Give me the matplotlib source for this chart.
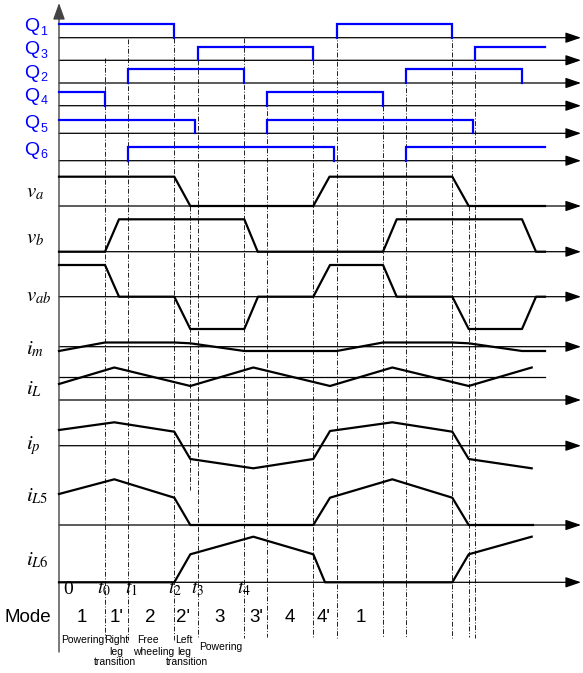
import numpy as np
import matplotlib.pyplot as plt

plt.rcParams['mathtext.fontset'] = 'stix'
plt.rcParams['font.family'] = ['Liberation Sans', 'DejaVu Sans']

# horizontal time axis (drawing units, left edge of the time axis = 59)
t_start, t_stop, t_arrow = 59, 545, 581

# gate signals: on-intervals for each switch
gate_labels = ["1", "3", "2", "4", "5", "6"]
gate_on = [
    [(59, 174.3), (336.7, 452.3)],
    [(197.7, 313.3), (475.3, 545)],
    [(128.3, 244.3), (406, 522)],
    [(59, 105), (267, 383)],
    [(59, 195.3), (267, 473.3)],
    [(128.3, 334.3), (406, 545)],
]
gate_high = 13.8

# analog waveforms: time points and values (height above the row's zero line)
va_t = [59, 174.3, 190.3, 313.3, 329.5, 452.3, 468.7, 545]
va_v = [29.3, 29.3, 0, 0, 29.3, 29.3, 0, 0]

vb_t = [59, 105, 119, 244.3, 257.7, 383, 396.7, 522, 536, 545]
vb_v = [0, 0, 32.4, 32.4, 0, 0, 32.4, 32.4, 0, 0]

vab_t = [59, 105, 119, 174.3, 190.3, 244.3, 258, 313.3, 330, 383, 396.7,
         452.3, 468.7, 522, 536, 545]
vab_v = [31.7, 31.7, 0, 0, -32.3, -32.3, 0, 0, 31.7, 31.7, 0, 0,
         -32.3, -32.3, 0, 0]

im_t = [59, 105, 174.3, 190.3, 244.3, 336.7, 383, 452.3, 468.7, 522, 545]
im_v = [-4.3, 4.2, 4.2, 3.4, -4.3, -4.3, 4.2, 4.2, 3.4, -4.3, -4.3]

iL_t = [59, 114.3, 190.3, 253.3, 330, 392.3, 468.7, 531.7]
iL_v = [-6.7, 9.8, -8.7, 9.8, -8.7, 9.8, -8.7, 9.8]

ip_t = [59, 114.3, 174.3, 190.3, 253.3, 313.3, 330, 392.3, 452.3, 468.7, 531.7]
ip_v = [15.7, 23.4, 14, -13.3, -22.6, -13.3, 14.7, 23.4, 14, -13.3, -22.6]

iL5_t = [59, 114.3, 174.3, 190.3, 313.3, 330, 392.3, 452.3, 468.7, 533]
iL5_v = [31, 45.7, 27.3, 0, 0, 27.3, 45.7, 27.3, 0, 0]

iL6_t = [59, 174.3, 190.3, 253.3, 313.3, 325, 452.3, 468.7, 531.7]
iL6_v = [0, 0, 28, 45.6, 28, 0, 0, 28, 45.6]

# event lines: x, top, bottom
event_x = [105, 128.3, 174.3, 190.3, 197.7, 244.3, 267, 313.3, 336.7, 383,
           406, 452.3, 468.7, 475.3]
event_top = [58, 39, 37.7, 206, 60.3, 37.7, 92, 60.3, 23.7, 105.7, 69.3,
             23.7, 206, 46.3]
event_bot = [638, 640, 640, 490, 638, 638, 637, 638, 638, 638, 638, 638,
             637, 638]

time_labels = ["0", "$t_0$", "$t_1$", "$t_2$", "$t_3$", "$t_4$"]
time_label_x = [68, 104, 131, 175, 198, 244]

modes = ["1", "1'", "2", "2'", "3", "3'", "4", "4'", "1"]
mode_x = [81.7, 116.7, 150.7, 183.3, 220, 256, 290, 323.3, 360.7]

fig = plt.figure(figsize=(5.83, 6.73), dpi=100)
ax = fig.add_axes([0, 0, 1, 1])
ax.set_xlim(0, 583)
ax.set_ylim(673, 0)
ax.axis('off')

arrow_style = '-|>,head_length=0.94,head_width=0.32'


def axis_arrow(y):
    ax.annotate('', xy=(t_arrow, y), xytext=(t_start, y),
                arrowprops=dict(arrowstyle=arrow_style, color='black', lw=0.9,
                                shrinkA=0, shrinkB=0), zorder=2)


# vertical axis
ax.annotate('', xy=(t_start, 3), xytext=(t_start, 652),
            arrowprops=dict(arrowstyle='-|>,head_length=1.0,head_width=0.36',
                            color='#444444', lw=1.0, shrinkA=0, shrinkB=0))

# dash-dot event lines
for x, top, bot in zip(event_x, event_top, event_bot):
    ax.plot([x, x], [top, bot], color='#222222', lw=0.7,
            linestyle=(0, (5, 1.8, 1, 1.8)), zorder=1)

# gate signals
gate_base = [37.7, 60.3, 83, 105.7, 133.3, 160.7]
gate_label_y = [26.7, 50, 73.3, 96.3, 123.7, 150.3]
for name, intervals, base, ly in zip(gate_labels, gate_on, gate_base, gate_label_y):
    axis_arrow(base)
    hi = base - gate_high
    for a, b in intervals:
        xs, ys = [], []
        if a > t_start:
            xs.append(a); ys.append(base)
        xs += [a, b]; ys += [hi, hi]
        if b < t_stop:
            xs.append(b); ys.append(base)
        ax.plot(xs, ys, color='#0000ff', lw=1.6, solid_joinstyle='miter', zorder=4)
    ax.text(24.5, ly, "Q", color='#0000ff', fontsize=14, ha='left', va='center')
    ax.text(40.5, ly + 5, name, color='#0000ff', fontsize=9, ha='left', va='center')

# analog rows: (zero line, times, values, label, label y)
rows = [
    (206, va_t, va_v, r"$v_a$", 193),
    (251.7, vb_t, vb_v, r"$v_b$", 239),
    (296.7, vab_t, vab_v, r"$v_{ab}$", 296),
    (346.7, im_t, im_v, r"$i_m$", 349),
    (377.3, iL_t, iL_v, r"$i_L$", 389),
    (445.7, ip_t, ip_v, r"$i_p$", 446),
    (525, iL5_t, iL5_v, r"$i_{L5}$", 496),
    (582.3, iL6_t, iL6_v, r"$i_{L6}$", 560),
]
for zero, ts, vs, label, ly in rows:
    if label == r"$i_L$":
        ax.plot([t_start, t_stop], [zero, zero], color='black', lw=0.9, zorder=2)
        axis_arrow(400)
    else:
        axis_arrow(zero)
    ax.plot(ts, zero - np.array(vs), color='black', lw=1.6, zorder=3)
    ax.text(25.5, ly, label, fontsize=15, ha='left', va='center')

# time instants
for lab, x in zip(time_labels, time_label_x):
    ax.text(x, 589, lab, fontsize=14, ha='center', va='center',
            family='Liberation Serif' if lab == "0" else None)

# mode row
ax.text(5, 618, "Mode", fontsize=13.5, ha='left', va='center')
for m, x in zip(modes, mode_x):
    ax.text(x, 618, m, fontsize=13.5, ha='center', va='center')

small = [("Powering", 82.5, 640), ("Right", 116.7, 640), ("leg", 116.7, 651.7),
         ("transition", 115, 661.7), ("Free", 147.5, 640), ("wheeling", 153.3, 651.7),
         ("Left", 184, 640), ("leg", 184, 651.7), ("transition", 186.7, 661.7),
         ("Powering", 220.8, 646.7)]
for s, x, y in small:
    ax.text(x, y, s, fontsize=7.5, ha='center', va='center')

fig.savefig("out.png", dpi=100)
